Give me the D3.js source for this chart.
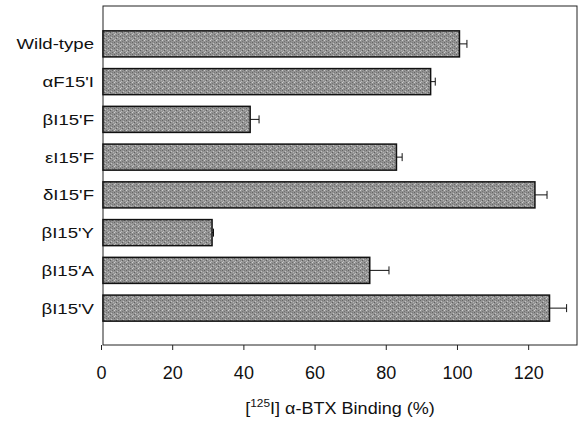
<!DOCTYPE html>
<html>
<head>
<meta charset="utf-8">
<script src="https://cdn.jsdelivr.net/npm/d3@7"></script>
<style>
  body { margin: 0; background: #fff; }
  text { font-family: "Liberation Sans", Arial, sans-serif; fill: #111; }
</style>
</head>
<body>
<script>
const mutants = ['Wild-type', 'αF15\'I', 'βI15\'F', 'εI15\'F', 'δI15\'F', 'βI15\'Y', 'βI15\'A', 'βI15\'V']
const binding = [100.7, 92.6, 41.9, 83.0, 121.9, 31.2, 75.5, 126.0]
const errors = [2.1, 1.3, 2.5, 1.6, 3.4, 0.4, 5.4, 4.8]
const xTicks = [0, 20, 40, 60, 80, 100, 120]

const width = 580, height = 421
const margin = { left: 101, right: 2, top: 6, bottom: 76 }

const svg = d3.select('body').append('svg')
  .attr('width', width)
  .attr('height', height)

// grainy grey fill like the scanned bars
const defs = svg.append('defs')
const pat = defs.append('pattern')
  .attr('id', 'grain')
  .attr('width', 6).attr('height', 6)
  .attr('patternUnits', 'userSpaceOnUse')
pat.append('rect').attr('width', 6).attr('height', 6).attr('fill', '#939393')
const grain = [[0, 0, '#666'], [3, 1, '#c4c4c4'], [1, 3, '#bdbdbd'], [4, 4, '#6a6a6a'],
  [2, 5, '#747474'], [5, 2, '#b0b0b0'], [0, 4, '#cfcfcf'], [4, 0, '#7a7a7a'], [2, 2, '#5f5f5f']]
grain.forEach(([gx, gy, c]) => pat.append('rect').attr('x', gx).attr('y', gy).attr('width', 1).attr('height', 1).attr('fill', c))

const x = d3.scaleLinear()
  .domain([0, 134])
  .range([margin.left, width - margin.right])

const y = d3.scaleBand()
  .domain(mutants)
  .range([25, 327])
  .paddingInner(0.31)
  .paddingOuter(0.155)

const plotBottom = height - margin.bottom

// frame
svg.append('rect')
  .attr('x', x(0) + 2).attr('y', margin.top)
  .attr('width', x(134) - x(0) - 3)
  .attr('height', plotBottom - margin.top)
  .attr('fill', 'none')
  .attr('stroke', '#222')
  .attr('stroke-width', 1)

// bars
svg.selectAll('.bar').data(mutants)
  .enter().append('rect')
  .attr('class', 'bar')
  .attr('x', x(0) + 2)
  .attr('y', (d) => y(d))
  .attr('width', (d, i) => x(binding[i]) - x(0) - 2)
  .attr('height', y.bandwidth())
  .attr('fill', 'url(#grain)')
  .attr('stroke', '#111')
  .attr('stroke-width', 1.5)

// error bars
const eb = svg.selectAll('.err').data(mutants).enter().append('g')
eb.append('line')
  .attr('x1', (d, i) => x(binding[i]))
  .attr('x2', (d, i) => x(binding[i] + errors[i]))
  .attr('y1', (d) => y(d) + y.bandwidth() / 2)
  .attr('y2', (d) => y(d) + y.bandwidth() / 2)
  .attr('stroke', '#111')
eb.append('line')
  .attr('x1', (d, i) => x(binding[i] + errors[i]))
  .attr('x2', (d, i) => x(binding[i] + errors[i]))
  .attr('y1', (d) => y(d) + y.bandwidth() / 2 - 4)
  .attr('y2', (d) => y(d) + y.bandwidth() / 2 + 4)
  .attr('stroke', '#111')

// category labels (the scan's lettering is wider than Arial)
svg.selectAll('.lab').data(mutants)
  .enter().append('text')
  .attr('transform', (d) => `translate(94,${y(d) + y.bandwidth() / 2}) scale(1.2,1)`)
  .attr('dy', '0.36em')
  .attr('text-anchor', 'end')
  .attr('font-size', 15.5)
  .text((d) => d)

// x axis
const xAxis = svg.append('g')
  .attr('transform', `translate(0,${plotBottom})`)
  .call(d3.axisBottom(x).tickValues(xTicks).tickSize(5).tickPadding(16))
xAxis.select('.domain').remove()
xAxis.selectAll('line').attr('stroke', '#222')
xAxis.selectAll('text').attr('font-size', 18).attr('font-family', '"Liberation Sans", Arial, sans-serif').attr('fill', '#111')

// axis title
const title = svg.append('text')
  .attr('transform', 'translate(340,414) scale(1.08,1)')
  .attr('text-anchor', 'middle')
  .attr('font-size', 16.7)
title.append('tspan').text('[')
title.append('tspan').attr('font-size', 11).attr('dy', -7).text('125')
title.append('tspan').attr('dy', 7).text('I] α-BTX Binding (%)')
</script>
</body>
</html>
